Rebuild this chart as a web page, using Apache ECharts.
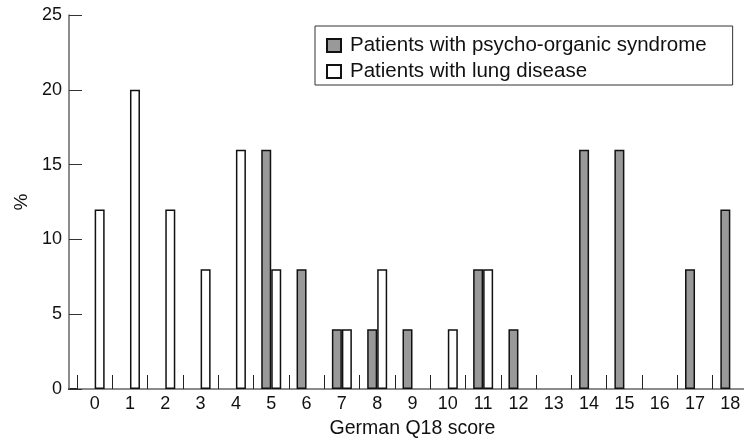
<!DOCTYPE html>
<html>
<head>
<meta charset="utf-8">
<script src="https://cdn.jsdelivr.net/npm/echarts@6/dist/echarts.min.js"></script>
<style>
  html, body { margin: 0; padding: 0; background: #fff; }
  #chart { width: 744px; height: 440px; }
</style>
</head>
<body>
<div id="chart"></div>
<script>
// categories: German Q18 score 0..18
var scores = ["0", "1", "2", "3", "4", "5", "6", "7", "8", "9", "10", "11", "12", "13", "14", "15", "16", "17", "18"];
// percentages
var psychoOrganic = [0, 0, 0, 0, 0, 16, 8, 4, 4, 4, 0, 8, 4, 0, 16, 16, 0, 8, 12];
var lungDisease = [12, 20, 12, 8, 16, 8, 0, 4, 8, 0, 4, 8, 0, 0, 0, 0, 0, 0, 0];
var yTicks = [0, 5, 10, 15, 20, 25];

var fontFamily = "'Liberation Sans', Arial, sans-serif";
var myChart = echarts.init(document.getElementById("chart"));

// 0% bars are not drawn at all in the original (no outline on the baseline)
function hideZero(arr) {
  return arr.map(function (v) { return v === 0 ? null : v; });
}

var option = {
  animation: false,
  textStyle: { fontFamily: fontFamily, color: "#111" },
  grid: { left: 77, top: 15, width: 671, bottom: 51, containLabel: false, outerBoundsMode: "none" },
  legend: {
    orient: "vertical",
    left: 315,
    top: 26,
    padding: [9, 26, 3, 11],
    itemGap: 5,
    itemWidth: 14,
    itemHeight: 13,
    icon: "rect",
    borderColor: "#333",
    borderWidth: 1,
    textStyle: { fontSize: 20.5, color: "#111", fontFamily: fontFamily, padding: [0, 0, 0, 4] },
    data: ["Patients with psycho-organic syndrome", "Patients with lung disease"]
  },
  xAxis: {
    type: "category",
    data: scores,
    name: "German Q18 score",
    nameLocation: "middle",
    nameGap: 30,
    nameTextStyle: { fontSize: 19.5, color: "#111" },
    axisLine: { lineStyle: { color: "#666", width: 1.5 } },
    // ticks sit between the categories and point up into the plot
    axisTick: {
      show: true,
      alignWithLabel: false,
      interval: 0,
      inside: true,
      length: 14,
      lineStyle: { color: "#222", width: 1 }
    },
    axisLabel: { fontSize: 18, color: "#111", margin: 6, interval: 0 }
  },
  yAxis: {
    type: "value",
    min: yTicks[0],
    max: yTicks[yTicks.length - 1],
    interval: 5,
    offset: 8,
    name: "%",
    nameLocation: "middle",
    nameRotate: 90,
    nameGap: 37,
    nameTextStyle: { fontSize: 19, color: "#111" },
    splitLine: { show: false },
    axisLine: { show: true, lineStyle: { color: "#666", width: 1.5 } },
    axisTick: { show: true, inside: true, length: 13, lineStyle: { color: "#333", width: 1 } },
    axisLabel: { fontSize: 18, color: "#111", margin: 7 }
  },
  // short stretch of x axis line left of the first category
  graphic: [
    {
      type: "line",
      shape: { x1: 68, y1: 389, x2: 77, y2: 389 },
      style: { stroke: "#222", lineWidth: 2 }
    }
  ],
  series: [
    {
      name: "Patients with psycho-organic syndrome",
      type: "bar",
      data: hideZero(psychoOrganic),
      barWidth: 10,
      barGap: "0%",
      itemStyle: { color: "#999999", borderColor: "#111", borderWidth: 1.5 }
    },
    {
      name: "Patients with lung disease",
      type: "bar",
      data: hideZero(lungDisease),
      barWidth: 10,
      barGap: "0%",
      itemStyle: { color: "#ffffff", borderColor: "#111", borderWidth: 1.5 }
    }
  ]
};

myChart.setOption(option);
</script>
</body>
</html>
